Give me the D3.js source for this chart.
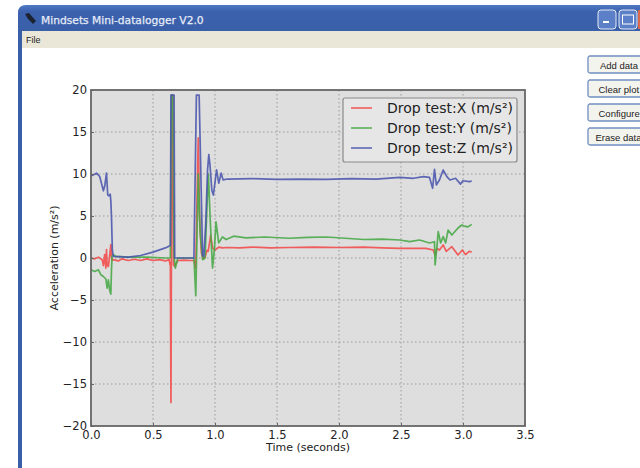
<!DOCTYPE html>
<html>
<head>
<meta charset="utf-8">
<script src="https://cdn.jsdelivr.net/npm/d3@7"></script>
<style>
  html, body { margin: 0; padding: 0; background: #fff; overflow: hidden; }
  svg { display: block; }
  text { font-family: "DejaVu Sans", sans-serif; }
</style>
</head>
<body>
<svg width="640" height="468"></svg>
<script>
var xTicks = [0, 0.5, 1, 1.5, 2, 2.5, 3, 3.5]
var yTicks = [-20, -15, -10, -5, 0, 5, 10, 15, 20]
var seriesNames = ['Drop test:X (m/s²)', 'Drop test:Y (m/s²)', 'Drop test:Z (m/s²)']
var seriesColors = ['#f24a4a', '#45a845', '#4a55ad']
var buttonLabels = ['Add data', 'Clear plot', 'Configure', 'Erase data']

var xTime = [0, 0.03, 0.06, 0.09, 0.1, 0.11, 0.12, 0.125, 0.13, 0.14, 0.15, 0.16, 0.165, 0.17, 0.18, 0.22, 0.25, 0.3, 0.35, 0.4, 0.45, 0.5, 0.55, 0.6, 0.63, 0.64, 0.645, 0.652, 0.66, 0.665, 0.675, 0.7, 0.75, 0.8, 0.83, 0.845, 0.855, 0.865, 0.875, 0.89, 0.905, 0.92, 0.935, 0.945, 0.965, 0.98, 1.0, 1.03, 1.06, 1.1, 1.2, 1.3, 1.45, 1.6, 1.8, 2, 2.2, 2.35, 2.49, 2.7, 2.76, 2.775, 2.79, 2.81, 2.84, 2.865, 2.91, 2.96, 2.995, 3.02, 3.05, 3.07]
var xVals = [0, -0.1, 0.1, -0.2, -0.9, 0.4, -1.2, 1, -0.8, -1, 0.2, 1.6, 0.2, -0.3, -0.2, -0.35, -0.1, -0.3, -0.15, -0.3, -0.1, -0.3, -0.2, -0.35, -0.2, -1, -17.2, 19.4, 19.4, -0.8, -1, -0.3, -0.25, -0.3, -0.3, -1.2, 7, 14.3, 5, 0.6, -0.1, 0.1, 0.9, 0.8, 2.7, 1.2, 0.95, 1.3, 1.2, 1.25, 1.2, 1.3, 1.2, 1.25, 1.3, 1.25, 1.3, 1.2, 1.15, 1.15, 0.95, 0.36, 1.15, 0.95, 1.55, 0.8, 1.35, 0.36, 0.95, 0.4, 0.8, 0.7]

var yTime = [0, 0.03, 0.06, 0.08, 0.1, 0.12, 0.13, 0.14, 0.15, 0.16, 0.165, 0.17, 0.18, 0.2, 0.3, 0.45, 0.6, 0.64, 0.648, 0.66, 0.67, 0.68, 0.7, 0.8, 0.83, 0.845, 0.865, 0.88, 0.9, 0.92, 0.935, 0.947, 0.96, 0.98, 0.995, 1.008, 1.03, 1.06, 1.09, 1.15, 1.25, 1.4, 1.6, 1.75, 1.9, 2.05, 2.2, 2.35, 2.49, 2.57, 2.65, 2.73, 2.77, 2.775, 2.79, 2.8, 2.82, 2.84, 2.86, 2.88, 2.91, 2.96, 2.99, 3.01, 3.04, 3.07]
var yVals = [-1.4, -1.6, -1.4, -2, -2.2, -2.5, -3.6, -2.6, -3.8, -4.3, -1.5, 0.2, 0.4, 0.2, 0.1, 0.1, 0, 0, 19.4, 19.4, 0.2, -1.2, 0, 0, 0, -4.5, 10, 3, -0.2, 0, 6, 10, 5, -1.2, 1, 4.3, 1.8, 2.5, 2.2, 2.6, 2.4, 2.5, 2.35, 2.45, 2.5, 2.35, 2.2, 2.25, 2.14, 1.94, 2.14, 1.79, 1.94, -0.83, 1.35, 3.13, 1.79, 2.54, 1.79, 3.33, 2.74, 3.57, 3.93, 3.8, 3.7, 4]

var zTime = [0, 0.02, 0.045, 0.07, 0.1, 0.11, 0.125, 0.135, 0.145, 0.155, 0.16, 0.165, 0.172, 0.18, 0.3, 0.4, 0.5, 0.6, 0.64, 0.645, 0.67, 0.675, 0.83, 0.85, 0.872, 0.9, 0.91, 0.925, 0.94, 0.95, 0.96, 0.975, 0.987, 1, 1.013, 1.03, 1.05, 1.065, 1.1, 1.3, 1.5, 1.7, 1.9, 2.1, 2.3, 2.49, 2.6, 2.68, 2.73, 2.755, 2.77, 2.785, 2.81, 2.84, 2.87, 2.895, 2.94, 2.98, 3, 3.05, 3.07]
var zVals = [9.8, 9.9, 10.1, 9.7, 8, 8.5, 10.1, 7.5, 7.4, 7.6, 6.8, 5, 1, 0.2, 0.1, 0.3, 0.7, 1.2, 1.5, 19.4, 19.4, 0, 0, 19.4, 19.4, 0.3, 0.2, 4, 10.5, 12.3, 11, 8, 7.5, 9, 10.5, 8.9, 10.1, 9.3, 9.4, 9.45, 9.35, 9.4, 9.35, 9.45, 9.4, 9.6, 9.49, 9.68, 9.6, 8.3, 10.55, 8.69, 9.29, 10.48, 9.68, 9.29, 9.49, 8.8, 9.2, 9.1, 9.15]

var series = [
  {t: xTime, v: xVals},
  {t: yTime, v: yVals},
  {t: zTime, v: zVals}
]

var svg = d3.select('svg')

// window chrome
var title = svg.append('defs').append('linearGradient')
  .attr('id', 'bar').attr('gradientUnits', 'userSpaceOnUse')
  .attr('x1', 0).attr('y1', 5).attr('x2', 0).attr('y2', 31)
title.append('stop').attr('offset', '0').attr('stop-color', '#4f79c4')
title.append('stop').attr('offset', '0.25').attr('stop-color', '#3c62ae')
title.append('stop').attr('offset', '1').attr('stop-color', '#3a5fa9')

svg.append('path')
  .attr('d', 'M18,468V13Q18,5 26,5H640V31H22V468Z')
  .attr('fill', 'url(#bar)')
svg.append('rect').attr('x', 22).attr('y', 31).attr('width', 618).attr('height', 17).attr('fill', '#ebe7d8')
svg.append('path')
  .attr('d', 'M25,14L29,13L36,21L33,24L28,19Z')
  .attr('fill', '#1c2330')
svg.append('text').attr('x', 41).attr('y', 24).attr('fill', '#e6ecf8')
  .attr('stroke', '#e6ecf8').attr('stroke-width', 0.25)
  .style('font-size', '10.7px').text('Mindsets Mini-datalogger V2.0')
svg.append('text').attr('x', 26).attr('y', 43).attr('fill', '#222')
  .style('font-family', '"Liberation Sans"').style('font-size', '9px').text('File')

// title bar buttons
svg.selectAll('rect.win').data([598, 619]).enter().append('rect')
  .attr('class', 'win')
  .attr('x', function (d) { return d })
  .attr('y', 10).attr('width', 18).attr('height', 19).attr('rx', 3)
  .attr('fill', '#5b80c8').attr('stroke', '#e4ebf7')
svg.append('rect').attr('x', 603).attr('y', 21).attr('width', 6).attr('height', 2).attr('fill', '#fff')
svg.append('rect').attr('x', 622.5).attr('y', 15).attr('width', 11).attr('height', 9)
  .attr('fill', 'none').attr('stroke', '#fff')
svg.append('rect').attr('x', 638).attr('y', 10).attr('width', 2).attr('height', 19).attr('fill', '#d9694a')

// side buttons
var btn = svg.selectAll('g.btn').data(buttonLabels).enter().append('g')
  .attr('class', 'btn')
  .attr('transform', function (d, i) { return 'translate(588,' + (56 + i * 24) + ')' })
btn.append('rect').attr('width', 70).attr('height', 17).attr('rx', 2)
  .attr('fill', '#f4f4ee').attr('stroke', '#6f8fc0').attr('stroke-width', 1.3)
btn.append('text').attr('x', function (d) { return d === 'Erase data' ? 7.5 : d === 'Add data' ? 12 : 10.5 }).attr('y', 12.5)
  .attr('fill', '#222').style('font-family', '"Liberation Sans"').style('font-size', '9.5px')
  .text(function (d) { return d })

// plot
var plotLeft = 91, plotRight = 525, plotTop = 90, plotBottom = 426
var x = d3.scaleLinear().domain([0, 3.5]).range([plotLeft, plotRight])
var y = d3.scaleLinear().domain([-20, 20]).range([plotBottom, plotTop])

svg.append('rect').attr('x', plotLeft).attr('y', plotTop).attr('width', plotRight - plotLeft).attr('height', plotBottom - plotTop).attr('fill', '#dedede')

var grid = svg.append('g').attr('fill', 'none').attr('stroke', '#9a9a9a').attr('stroke-width', 1).attr('stroke-dasharray', '1.5,2.5')
grid.selectAll('line.gx').data(xTicks.slice(1, -1)).enter().append('line').attr('class', 'gx')
  .attr('x1', function (d) { return x(d) }).attr('x2', function (d) { return x(d) })
  .attr('y1', plotTop).attr('y2', plotBottom)
grid.selectAll('line.gy').data(yTicks.slice(1, -1)).enter().append('line').attr('class', 'gy')
  .attr('y1', function (d) { return y(d) }).attr('y2', function (d) { return y(d) })
  .attr('x1', plotLeft).attr('x2', plotRight)

var ln = d3.line()
  .x(function (d) { return x(d[0]) })
  .y(function (d) { return y(d[1]) })

svg.selectAll('path.series').data(series).enter().append('path')
  .attr('class', 'series')
  .attr('d', function (s) { return ln(s.t.map(function (t, i) { return [t, s.v[i]] })) })
  .attr('fill', 'none')
  .attr('stroke-width', 1.7)
  .attr('stroke-opacity', 0.88)
  .attr('stroke-linejoin', 'round')
  .attr('stroke', function (d, i) { return seriesColors[i] })

svg.append('rect').attr('x', plotLeft).attr('y', plotTop).attr('width', plotRight - plotLeft).attr('height', plotBottom - plotTop)
  .attr('fill', 'none').attr('stroke', '#666').attr('stroke-width', 1.8)

var xAxis = svg.append('g').attr('transform', 'translate(0,' + plotBottom + ')')
  .call(d3.axisBottom(x).tickValues(xTicks).tickFormat(d3.format('.1f')).tickSize(-3).tickPadding(5))
var yAxis = svg.append('g').attr('transform', 'translate(' + plotLeft + ',0)')
  .call(d3.axisLeft(y).tickValues(yTicks).tickSize(-3).tickPadding(4))
;[xAxis, yAxis].forEach(function (a) {
  a.select('.domain').remove()
  a.selectAll('line').attr('stroke', '#666')
  a.selectAll('text').attr('fill', '#222').style('font-family', '"DejaVu Sans"').style('font-size', '11.5px')
})

svg.append('text').attr('x', 308).attr('y', 451).attr('text-anchor', 'middle').attr('fill', '#222')
  .style('font-size', '11px').text('Time (seconds)')
svg.append('text').attr('transform', 'translate(58,258) rotate(-90)').attr('text-anchor', 'middle').attr('fill', '#222')
  .style('font-size', '11px').text('Acceleration (m/s²)')

// legend
svg.append('rect').attr('x', 343).attr('y', 98).attr('width', 174).attr('height', 64).attr('rx', 2)
  .attr('fill', '#e6e6e6').attr('stroke', '#8a8a8a').attr('stroke-width', 1.2)
var leg = svg.selectAll('g.leg').data(seriesNames).enter().append('g')
  .attr('class', 'leg')
  .attr('transform', function (d, i) { return 'translate(0,' + (108 + i * 20) + ')' })
leg.append('line').attr('x1', 351).attr('x2', 372).attr('stroke-width', 1.4)
  .attr('stroke', function (d, i) { return seriesColors[i] })
leg.append('text').attr('x', 387).attr('y', 5).attr('fill', '#222').style('font-size', '14px')
  .text(function (d) { return d })
</script>
</body>
</html>
